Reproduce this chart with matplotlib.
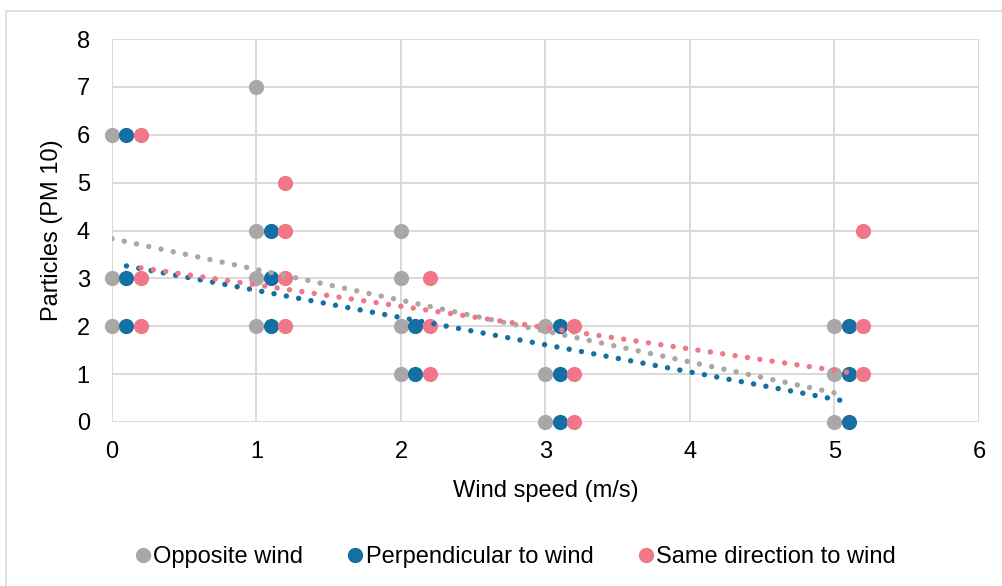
import matplotlib
matplotlib.use("Agg")
import matplotlib.pyplot as plt
from matplotlib.patches import Rectangle
from matplotlib.lines import Line2D

plt.rcParams['font.family'] = ['Liberation Sans', 'DejaVu Sans']

# Data
opp_x = [0, 0, 0, 1, 1, 1, 1, 2, 2, 2, 2, 3, 3, 3, 5, 5, 5]
opp_y = [6, 3, 2, 7, 4, 3, 2, 4, 3, 2, 1, 2, 1, 0, 2, 1, 0]
perp_x = [0.1, 0.1, 0.1, 1.1, 1.1, 1.1, 2.1, 2.1, 3.1, 3.1, 3.1, 5.1, 5.1, 5.1]
perp_y = [6, 3, 2, 4, 3, 2, 2, 1, 2, 1, 0, 2, 1, 0]
same_x = [0.2, 0.2, 0.2, 1.2, 1.2, 1.2, 1.2, 2.2, 2.2, 2.2, 3.2, 3.2, 3.2, 5.2, 5.2, 5.2]
same_y = [6, 3, 2, 5, 4, 3, 2, 3, 2, 1, 2, 1, 0, 4, 2, 1]

# Linear trendlines (end points)
opp_trend_x = [0, 5]
opp_trend_y = [3.83, 0.61]
perp_trend_x = [0.1, 5.1]
perp_trend_y = [3.26, 0.42]
same_trend_x = [0.2, 5.2]
same_trend_y = [3.22, 0.99]

labels = ["Opposite wind", "Perpendicular to wind", "Same direction to wind"]
x_ticks = [0, 1, 2, 3, 4, 5, 6]
y_ticks = [0, 1, 2, 3, 4, 5, 6, 7, 8]

c_gray = "#ABA7A6"
c_blue = "#166FA3"
c_pink = "#F07788"
grid_c = "#D9D9D9"
fs = 17

fig = plt.figure(figsize=(10.03, 5.86), dpi=100)
ax = fig.add_axes([112/1003, 1-422/586, (979-112)/1003, (422-39)/586])

ms = 120
ax.scatter(opp_x, opp_y, s=ms, color=c_gray, zorder=3, linewidths=0, clip_on=False)
ax.scatter(perp_x, perp_y, s=ms, color=c_blue, zorder=4, linewidths=0, clip_on=False)
ax.scatter(same_x, same_y, s=ms, color=c_pink, zorder=5, linewidths=0, clip_on=False)

dot = (0, (0.01, 2.3))
for tx, ty, c in [(opp_trend_x, opp_trend_y, c_gray),
                  (perp_trend_x, perp_trend_y, c_blue),
                  (same_trend_x, same_trend_y, c_pink)]:
    ax.plot(tx, ty, color=c, lw=3.9, linestyle=dot, dash_capstyle='round',
            solid_capstyle='round', zorder=6)

ax.set_xlim(0, 6)
ax.set_ylim(0, 8)
ax.set_xticks(x_ticks)
ax.set_yticks(y_ticks)
ax.grid(True, color=grid_c, lw=1.4, zorder=0)
ax.set_axisbelow(True)
for s in ax.spines.values():
    s.set_visible(False)
ax.tick_params(length=0, labelsize=fs, colors='black', pad=14)
ax.tick_params(axis='y', pad=16)

ax.set_xlabel("Wind speed (m/s)", fontsize=fs, labelpad=12)
ax.set_ylabel("Particles (PM 10)", fontsize=fs, labelpad=10)

handles = [Line2D([], [], marker='o', color=c, linestyle='None', markersize=10)
           for c in (c_gray, c_blue, c_pink)]
fig.legend(handles, labels, loc='center', bbox_to_anchor=(514/1003, 1-557/586),
           ncol=3, frameon=False, fontsize=fs, handletextpad=0.0,
           columnspacing=1.75, handlelength=0.9)

fig.patches.append(Rectangle((6/1003, -0.05), 1.2, 1-11/586+0.05,
                             transform=fig.transFigure, fill=False,
                             edgecolor=grid_c, lw=1.2))

fig.savefig("out.png", dpi=100)
